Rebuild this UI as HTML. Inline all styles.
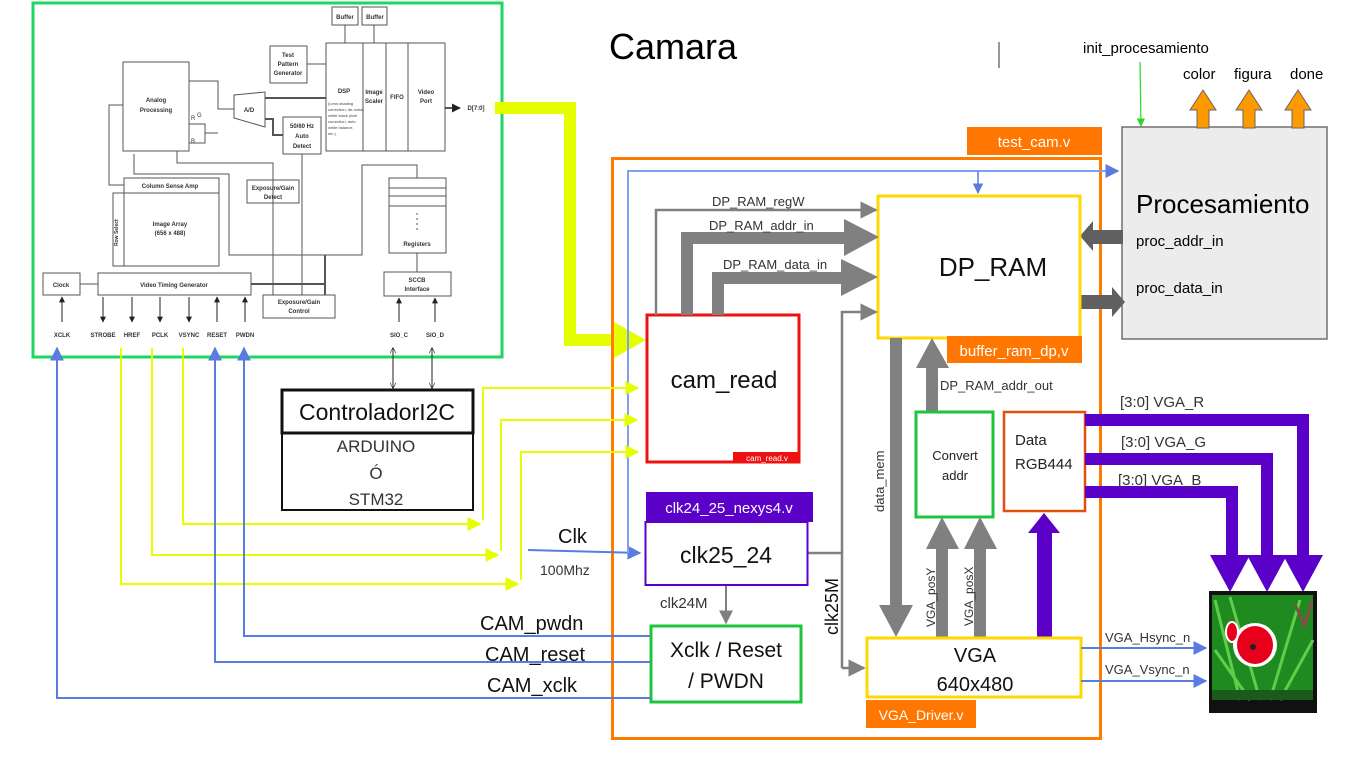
<!DOCTYPE html>
<html><head><meta charset="utf-8"><style>
html,body{margin:0;padding:0;background:#fff;}
svg{display:block;font-family:"Liberation Sans",sans-serif;}
</style></head><body>
<svg width="1366" height="768" viewBox="0 0 1366 768" xmlns="http://www.w3.org/2000/svg">
<defs>
<marker id="ab" viewBox="0 0 10 10" refX="9" refY="5" markerWidth="7" markerHeight="7" orient="auto"><path d="M0,0L10,5L0,10z" fill="#5b7be0"/></marker>
<marker id="ay" viewBox="0 0 10 10" refX="9" refY="5" markerWidth="7" markerHeight="7" orient="auto"><path d="M0,0L10,5L0,10z" fill="#e6ff00"/></marker>
<marker id="ag" viewBox="0 0 10 10" refX="9" refY="5" markerWidth="7" markerHeight="7" orient="auto"><path d="M0,0L10,5L0,10z" fill="#808080"/></marker>
<marker id="ak" viewBox="0 0 10 10" refX="9" refY="5" markerWidth="6" markerHeight="6" orient="auto"><path d="M0,0L10,5L0,10z" fill="#222"/></marker>
<marker id="aks" viewBox="0 0 10 10" refX="1" refY="5" markerWidth="6" markerHeight="6" orient="auto"><path d="M10,0L0,5L10,10" fill="none" stroke="#222"/></marker>
<marker id="ake" viewBox="0 0 10 10" refX="9" refY="5" markerWidth="6" markerHeight="6" orient="auto"><path d="M0,0L10,5L0,10" fill="none" stroke="#222"/></marker>
<marker id="agr" viewBox="0 0 10 10" refX="9" refY="5" markerWidth="7" markerHeight="7" orient="auto"><path d="M0,0L10,5L0,10z" fill="#22dd22"/></marker>
</defs>

<rect x="33" y="3" width="469" height="354" fill="#fff" stroke="#1ed760" stroke-width="3"/>
<g fill="none" stroke="#555" stroke-width="1">
<rect x="332" y="7" width="26" height="18"/><rect x="362" y="7" width="25" height="18"/>
<line x1="345" y1="25" x2="345" y2="43"/><line x1="374" y1="25" x2="374" y2="43"/>
<rect x="270" y="46" width="37" height="37"/><line x1="307" y1="64" x2="326" y2="64"/>
<rect x="326" y="43" width="119" height="108"/>
<line x1="363" y1="43" x2="363" y2="151"/><line x1="386" y1="43" x2="386" y2="151"/><line x1="408" y1="43" x2="408" y2="151"/>
<rect x="123" y="62" width="66" height="89"/>
<path d="M234,95 L265,92 L265,127 L234,118z"/>
<path d="M189,81 H218 V109 H234 M189,124 H205 V133 H218 M189,143 H205 V133"/>
<rect x="283" y="117" width="38" height="37"/>
<path d="M265,98 H326" stroke-width="2"/><path d="M265,119 H273 V135 H283" stroke-width="2"/>
<rect x="124" y="178" width="95" height="15"/><rect x="113" y="193" width="106" height="73"/><line x1="124" y1="193" x2="124" y2="266"/>
<path d="M123,105 H109 V185 H124"/><path d="M134,154 V174 H229 V255 H362 V165 H417 V178" />
<path d="M177,151 V163 H273 V295"/><path d="M302,154 V295"/>
<rect x="247" y="180" width="52" height="23"/>
<rect x="389" y="178" width="57" height="75"/><line x1="389" y1="188" x2="446" y2="188"/><line x1="389" y1="196" x2="446" y2="196"/><line x1="389" y1="206" x2="446" y2="206"/>
<line x1="417" y1="213" x2="417" y2="230" stroke-dasharray="2,3"/>
<rect x="43" y="273" width="37" height="22"/><line x1="80" y1="284" x2="98" y2="284"/>
<rect x="98" y="273" width="153" height="22"/>
<path d="M251,284 H325 V255 M325,295 V255" stroke-width="2"/>
<rect x="263" y="295" width="72" height="23"/>
<rect x="384" y="272" width="67" height="24"/><line x1="417" y1="253" x2="417" y2="272"/>
<line x1="445" y1="108" x2="460" y2="108" stroke="#222" stroke-width="1.5" marker-end="url(#ak)"/>
</g>
<g stroke="#222" stroke-width="1">
<line x1="62" y1="322" x2="62" y2="297" marker-end="url(#ak)"/>
<line x1="103" y1="297" x2="103" y2="322" marker-end="url(#ak)"/>
<line x1="132" y1="297" x2="132" y2="322" marker-end="url(#ak)"/>
<line x1="160" y1="297" x2="160" y2="322" marker-end="url(#ak)"/>
<line x1="189" y1="297" x2="189" y2="322" marker-end="url(#ak)"/>
<line x1="217" y1="322" x2="217" y2="297" marker-end="url(#ak)"/>
<line x1="245" y1="322" x2="245" y2="297" marker-end="url(#ak)"/>
<line x1="399" y1="322" x2="399" y2="298" marker-end="url(#ak)"/>
<line x1="435" y1="322" x2="435" y2="298" marker-end="url(#ak)"/>
</g>
<g font-size="6" fill="#333" text-anchor="middle" font-weight="bold">
<text x="345" y="19">Buffer</text><text x="375" y="19">Buffer</text>
<text x="288" y="57">Test</text><text x="288" y="66">Pattern</text><text x="288" y="75">Generator</text>
<text x="344" y="93">DSP</text><text x="374" y="94">Image</text><text x="374" y="103">Scaler</text><text x="397" y="99">FIFO</text>
<text x="426" y="94">Video</text><text x="426" y="103">Port</text>
<text x="156" y="102">Analog</text><text x="156" y="112">Processing</text>
<text x="249" y="112">A/D</text>
<text x="302" y="128">50/60 Hz</text><text x="302" y="138">Auto</text><text x="302" y="148">Detect</text>
<text x="170" y="188">Column Sense Amp</text>
<text x="170" y="226">Image Array</text><text x="170" y="235">(656 x 488)</text>
<text x="273" y="190">Exposure/Gain</text><text x="273" y="199">Detect</text>
<text x="417" y="246">Registers</text>
<text x="61" y="287">Clock</text><text x="174" y="287">Video Timing Generator</text>
<text x="299" y="304">Exposure/Gain</text><text x="299" y="313">Control</text>
<text x="417" y="282">SCCB</text><text x="417" y="291">Interface</text>
<text x="62" y="337">XCLK</text><text x="103" y="337">STROBE</text><text x="132" y="337">HREF</text><text x="160" y="337">PCLK</text><text x="189" y="337">VSYNC</text><text x="217" y="337">RESET</text><text x="245" y="337">PWDN</text>
<text x="399" y="337">SIO_C</text><text x="435" y="337">SIO_D</text>
<text x="476" y="110">D[7:0]</text>
</g>
<g font-size="4" fill="#444"><text x="328" y="105">(Lens shading</text><text x="328" y="111">correction, de-noise,</text><text x="328" y="117">white black pixel</text><text x="328" y="123">correction, auto</text><text x="328" y="129">white balance,</text><text x="328" y="135">etc.)</text></g>
<text x="118" y="246" font-size="5" fill="#333" transform="rotate(-90 118 246)" font-weight="bold">Row Select</text>
<text x="197" y="117" font-size="6" fill="#333">G</text><text x="191" y="120" font-size="6" fill="#333">R</text><text x="191" y="143" font-size="6" fill="#333">B</text>

<path d="M495,108 H570 V340 H614" fill="none" stroke="#e6ff00" stroke-width="12"/>
<path d="M612,321 L646,340 L612,359z" fill="#e6ff00"/>

<text x="609" y="59" font-size="36" fill="#000">Camara</text>
<line x1="999" y1="42" x2="999" y2="68" stroke="#333"/>

<rect x="967" y="127" width="135" height="28" fill="#ff7700"/>
<text x="1034" y="147" font-size="15" fill="#fff" text-anchor="middle">test_cam.v</text>
<rect x="612.5" y="158.5" width="488" height="580" fill="none" stroke="#ff7b00" stroke-width="3"/>

<rect x="1122" y="127" width="205" height="212" fill="#ececec" stroke="#707070" stroke-width="1.5"/>
<text x="1083" y="53" font-size="15" fill="#000">init_procesamiento</text>
<line x1="1140" y1="62" x2="1141" y2="126" stroke="#22dd22" stroke-width="1.2" marker-end="url(#agr)"/>
<g font-size="15" fill="#000"><text x="1183" y="79">color</text><text x="1234" y="79">figura</text><text x="1290" y="79">done</text></g>
<g fill="#ff9900" stroke="#666" stroke-width="1">
<path d="M1197,128 V110 H1190 L1203,90 L1216,110 H1209 V128z"/>
<path d="M1243,128 V110 H1236 L1249,90 L1262,110 H1255 V128z"/>
<path d="M1292,128 V110 H1285 L1298,90 L1311,110 H1304 V128z"/>
</g>
<text x="1136" y="213" font-size="26" fill="#000">Procesamiento</text>
<text x="1136" y="246" font-size="15" fill="#000">proc_addr_in</text>
<text x="1136" y="293" font-size="15" fill="#000">proc_data_in</text>
<path d="M1123,230 H1093 V221 L1080,236 L1093,251 V244 H1123z" fill="#606060"/>
<path d="M1080,295 H1112 V287 L1125,302 L1112,317 V309 H1080z" fill="#606060"/>

<path d="M528,550 L640,553" fill="none" stroke="#5b7be0" stroke-width="2" marker-end="url(#ab)"/>
<path d="M628,553 V171 H1118" fill="none" stroke="#7fa0f0" stroke-width="2" marker-end="url(#ab)"/>
<path d="M978,171 V193" fill="none" stroke="#5b7be0" stroke-width="1.5" marker-end="url(#ab)"/>

<rect x="878" y="196" width="202" height="142" fill="#fff" stroke="#ffd800" stroke-width="3"/>
<text x="993" y="276" font-size="26" fill="#111" text-anchor="middle">DP_RAM</text>
<rect x="947" y="336" width="135" height="27" fill="#ff7700"/>
<text x="1014" y="356" font-size="15" fill="#fff" text-anchor="middle">buffer_ram_dp,v</text>

<rect x="647" y="315" width="152" height="147" fill="#fff" stroke="#ee1111" stroke-width="3"/>
<text x="724" y="388" font-size="24" fill="#111" text-anchor="middle">cam_read</text>
<rect x="733" y="452" width="67" height="11" fill="#ee1111"/>
<text x="767" y="461" font-size="8" fill="#fff" text-anchor="middle">cam_read.v</text>

<path d="M656,315 V210 H876" fill="none" stroke="#808080" stroke-width="2.5" marker-end="url(#ag)"/>
<text x="712" y="206" font-size="13" fill="#333">DP_RAM_regW</text>
<path d="M687,315 V238 H846" fill="none" stroke="#808080" stroke-width="12"/>
<path d="M844,219 L879,237 L844,256z" fill="#808080"/>
<text x="709" y="230" font-size="13" fill="#333">DP_RAM_addr_in</text>
<path d="M718,315 V278 H843" fill="none" stroke="#808080" stroke-width="12"/>
<path d="M841,259 L878,277 L841,296z" fill="#808080"/>
<text x="723" y="269" font-size="13" fill="#333">DP_RAM_data_in</text>
<path d="M808,553 H842 M842,668 V312 H876" fill="none" stroke="#808080" stroke-width="2.5" marker-end="url(#ag)"/>
<path d="M842,668 H864" fill="none" stroke="#808080" stroke-width="2.5" marker-end="url(#ag)"/>

<rect x="890" y="338" width="12" height="272" fill="#808080"/>
<path d="M879,605 L913,605 L896,637z" fill="#808080"/>
<text x="884" y="512" font-size="13" fill="#333" transform="rotate(-90 884 512)">data_mem</text>

<rect x="926" y="365" width="12" height="46" fill="#808080"/>
<path d="M916,368 L932,338 L949,368z" fill="#808080"/>
<text x="940" y="390" font-size="13" fill="#333">DP_RAM_addr_out</text>

<rect x="916" y="412" width="77" height="105" fill="#fff" stroke="#1ec43c" stroke-width="3"/>
<text x="955" y="460" font-size="13" fill="#222" text-anchor="middle">Convert</text>
<text x="955" y="480" font-size="13" fill="#222" text-anchor="middle">addr</text>

<rect x="1004" y="412" width="81" height="99" fill="#fff" stroke="#e05010" stroke-width="2.5"/>
<text x="1015" y="445" font-size="15" fill="#222">Data</text>
<text x="1015" y="469" font-size="15" fill="#222">RGB444</text>

<rect x="936" y="545" width="12" height="92" fill="#808080"/>
<path d="M926,549 L942,517 L959,549z" fill="#808080"/>
<rect x="974" y="545" width="12" height="92" fill="#808080"/>
<path d="M964,549 L980,517 L997,549z" fill="#808080"/>
<text x="935" y="627" font-size="12" fill="#333" transform="rotate(-90 935 627)">VGA_posY</text>
<text x="973" y="626" font-size="12" fill="#333" transform="rotate(-90 973 626)">VGA_posX</text>

<rect x="1037" y="530" width="15" height="107" fill="#5b00c8"/>
<path d="M1028,533 L1044,513 L1060,533z" fill="#5b00c8"/>

<rect x="867" y="638" width="214" height="59" fill="#fff" stroke="#ffd800" stroke-width="3"/>
<text x="975" y="662" font-size="20" fill="#111" text-anchor="middle">VGA</text>
<text x="975" y="691" font-size="20" fill="#111" text-anchor="middle">640x480</text>
<rect x="866" y="700" width="110" height="28" fill="#ff7700"/>
<text x="921" y="720" font-size="14" fill="#fff" text-anchor="middle">VGA_Driver.v</text>

<rect x="646" y="492" width="167" height="30" fill="#5b00c8"/>
<text x="729" y="513" font-size="15" fill="#fff" text-anchor="middle">clk24_25_nexys4.v</text>
<rect x="645.5" y="522" width="162" height="63" fill="#fff" stroke="#5b00c8" stroke-width="2"/>
<text x="726" y="563" font-size="23" fill="#111" text-anchor="middle">clk25_24</text>
<text x="660" y="608" font-size="15" fill="#333">clk24M</text>
<line x1="726" y1="586" x2="726" y2="623" stroke="#808080" stroke-width="2" marker-end="url(#ag)"/>
<text x="838" y="635" font-size="18" fill="#111" transform="rotate(-90 838 635)">clk25M</text>

<rect x="651" y="626" width="150" height="76" fill="#fff" stroke="#1ec43c" stroke-width="3"/>
<text x="726" y="657" font-size="21" fill="#111" text-anchor="middle">Xclk / Reset</text>
<text x="726" y="688" font-size="21" fill="#111" text-anchor="middle">/ PWDN</text>

<g fill="none" stroke="#5b00c8" stroke-width="12">
<path d="M1085,420 H1303 V560"/>
<path d="M1085,459 H1267 V560"/>
<path d="M1085,492 H1232 V560"/>
</g>
<path d="M1283,555 L1323,555 L1303,592z" fill="#5b00c8"/>
<path d="M1247,555 L1287,555 L1267,592z" fill="#5b00c8"/>
<path d="M1210,555 L1250,555 L1230,592z" fill="#5b00c8"/>
<g font-size="15" fill="#333"><text x="1120" y="407">[3:0] VGA_R</text><text x="1121" y="447">[3:0] VGA_G</text><text x="1118" y="485">[3:0] VGA_B</text></g>

<rect x="1209" y="591" width="108" height="122" fill="#111"/>
<rect x="1212" y="595" width="101" height="105" fill="#1f8a1f"/>
<path d="M1215,600 L1240,700 M1230,597 L1260,700 M1300,600 L1270,700 M1313,640 L1280,700 M1215,650 L1250,700" stroke="#5ecf4a" stroke-width="3"/>
<ellipse cx="1255" cy="645" rx="22" ry="22" fill="#fff"/>
<ellipse cx="1255" cy="645" rx="18" ry="19" fill="#e8001a"/>
<ellipse cx="1232" cy="632" rx="6" ry="10" fill="#e8001a" stroke="#fff" stroke-width="2"/>
<circle cx="1253" cy="647" r="3" fill="#222"/>
<path d="M1295,605 L1305,625 L1312,600" stroke="#8a4a4a" stroke-width="3" fill="none"/>
<rect x="1212" y="690" width="101" height="10" fill="#1b5a1b"/>

<line x1="1081" y1="648" x2="1206" y2="648" stroke="#5b7be0" stroke-width="2" marker-end="url(#ab)"/>
<line x1="1081" y1="681" x2="1206" y2="681" stroke="#5b7be0" stroke-width="2" marker-end="url(#ab)"/>
<text x="1105" y="642" font-size="13" fill="#333">VGA_Hsync_n</text>
<text x="1105" y="674" font-size="13" fill="#333">VGA_Vsync_n</text>

<rect x="282" y="390" width="191" height="120" fill="#fff" stroke="#111" stroke-width="2"/>
<rect x="282" y="390" width="191" height="43" fill="none" stroke="#111" stroke-width="3"/>
<text x="377" y="420" font-size="23" fill="#111" text-anchor="middle">ControladorI2C</text>
<g font-size="17" fill="#333" text-anchor="middle"><text x="376" y="452">ARDUINO</text><text x="376" y="479">Ó</text><text x="376" y="505">STM32</text></g>
<line x1="393" y1="348" x2="393" y2="388" stroke="#222" marker-start="url(#aks)" marker-end="url(#ake)"/>
<line x1="432" y1="348" x2="432" y2="388" stroke="#222" marker-start="url(#aks)" marker-end="url(#ake)"/>

<g fill="none" stroke="#e6ff00" stroke-width="2">
<path d="M183,348 V524 H480" marker-end="url(#ay)"/><path d="M483,520 V388 H638" marker-end="url(#ay)"/>
<path d="M152,348 V555 H498" marker-end="url(#ay)"/><path d="M501,551 V420 H637" marker-end="url(#ay)"/>
<path d="M121,348 V584 H518" marker-end="url(#ay)"/><path d="M521,580 V452 H638" marker-end="url(#ay)"/>
</g>

<g fill="none" stroke="#5b7be0" stroke-width="2">
<path d="M650,636 H244 V348" marker-end="url(#ab)"/>
<path d="M651,662 H215 V348" marker-end="url(#ab)"/>
<path d="M651,698 H57 V348" marker-end="url(#ab)"/>
</g>
<text x="558" y="543" font-size="20" fill="#111">Clk</text>
<text x="540" y="575" font-size="14" fill="#333">100Mhz</text>
<g font-size="20" fill="#111"><text x="480" y="630">CAM_pwdn</text><text x="485" y="661">CAM_reset</text><text x="487" y="692">CAM_xclk</text></g>
</svg>
</body></html>
